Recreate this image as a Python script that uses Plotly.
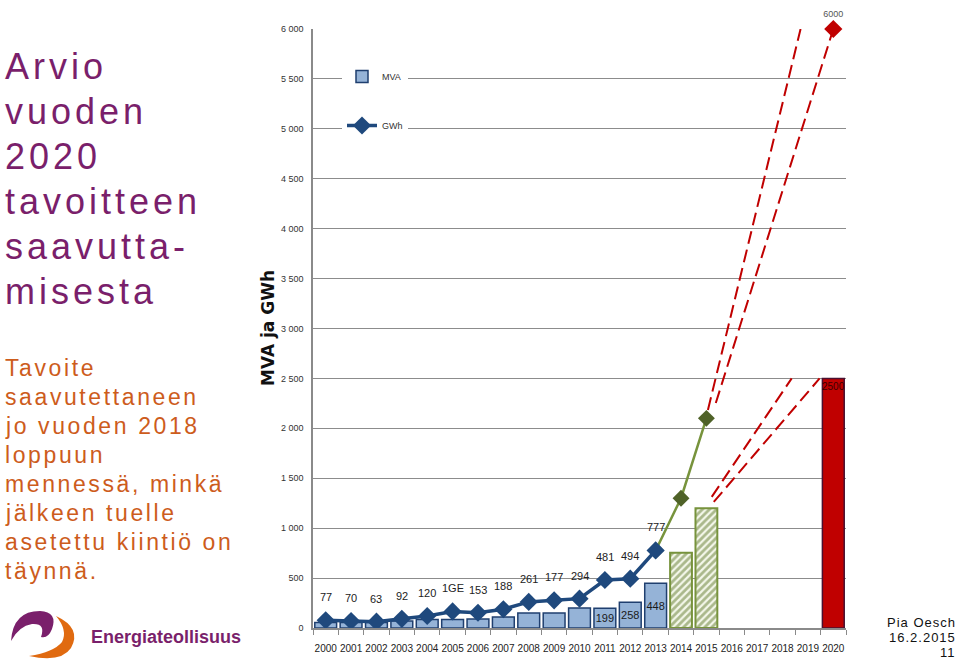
import plotly.graph_objects as go

# ---------------- data ----------------
years_all = list(range(2000, 2021))
mva_years = list(range(2000, 2014))
mva_values = [55, 55, 55, 70, 85, 85, 90, 110, 150, 150, 200, 199, 258, 448]
mva_labels = ["", "", "", "", "", "", "", "", "", "", "", "199", "258", "448"]

forecast_years = [2014, 2015]
forecast_mva = [755, 1200]

target_year = [2020]
target_mva = [2500]
target_label = ["2500"]

gwh_years = list(range(2000, 2014))
gwh_values = [77, 70, 63, 92, 120, 166, 153, 188, 261, 277, 294, 481, 494, 777]
gwh_labels = ["77", "70", "63", "92", "120", "1GE", "153", "188", "261", "177", "294", "481", "494", "777"]

gwh_fc_years = [2013, 2014, 2015]
gwh_fc_values = [777, 1300, 2100]

gwh_target_year = [2020]
gwh_target_value = [6000]

# projection corridors (dashed)
proj_gwh_a_x = [2015.06, 2018.71]
proj_gwh_a_y = [2184, 6000]
proj_gwh_b_x = [2015.37, 2020.0]
proj_gwh_b_y = [2254, 6000]
proj_mva_a_x = [2015.21, 2018.36]
proj_mva_a_y = [1313, 2500]
proj_mva_b_x = [2015.29, 2019.46]
proj_mva_b_y = [1263, 2500]

y_ticks = list(range(0, 6001, 500))
y_ticktext = ["0"] + [f"{v:,}".replace(",", " ") for v in y_ticks[1:]]

title_lines = ["Arvio", "vuoden", "2020", "tavoitteen", "saavutta-", "misesta"]
sub_lines = ["Tavoite", "saavutettaneen", "jo vuoden 2018", "loppuun",
             "mennessä, minkä", "jälkeen tuelle", "asetettu kiintiö on", "täynnä."]
footer_lines = ["Pia Oesch", "16.2.2015", "11"]

# ---------------- layout geometry ----------------
W, H = 960, 666
L, R, T, B = 313, 846, 29, 628


def px(x):
    return (x - L) / (R - L)


def py(y):
    return (B - y) / (B - T)


PURPLE = "#7A1F6B"
ORANGE = "#CD5C1C"
NAVY = "#1F497D"
NARROW = "Liberation Sans Narrow, Liberation Sans, Arial"

fig = go.Figure()

fig.add_trace(go.Bar(
    x=mva_years, y=mva_values, name="MVA", width=0.86,
    marker=dict(color="#95B3D7", line=dict(color="#1F3F6F", width=1.5)),
    text=mva_labels, textposition="inside", insidetextanchor="middle",
    textangle=0, constraintext="none",
    textfont=dict(size=11, color="#1a1a1a", family=NARROW),
    legendgroup="a",
))
fig.add_trace(go.Bar(
    x=forecast_years, y=forecast_mva, width=0.86, showlegend=False,
    marker=dict(color="#F4F7EA", line=dict(color="#77933C", width=2),
                pattern=dict(shape="/", fgcolor="#5F7A2C", bgcolor="#F4F7EA",
                             size=5, solidity=0.55)),
))
fig.add_trace(go.Bar(
    x=target_year, y=target_mva, width=0.86, showlegend=False,
    marker=dict(color="#C00000", line=dict(color="#4a1030", width=1.5)),
    text=target_label, textposition="inside", insidetextanchor="end",
    textangle=0, constraintext="none",
    textfont=dict(size=10, color="#3a0000", family=NARROW),
))

for xs, ys in [(proj_gwh_a_x, proj_gwh_a_y), (proj_gwh_b_x, proj_gwh_b_y),
               (proj_mva_a_x, proj_mva_a_y), (proj_mva_b_x, proj_mva_b_y)]:
    fig.add_trace(go.Scatter(
        x=xs, y=ys, mode="lines", showlegend=False, cliponaxis=False,
        line=dict(color="#C00000", width=2, dash="13px,6px"),
    ))

fig.add_trace(go.Scatter(
    x=gwh_fc_years, y=gwh_fc_values, mode="lines+markers", showlegend=False,
    line=dict(color="#77933C", width=2.5),
    marker=dict(symbol="diamond", size=13, color="#4F6228"),
))
fig.add_trace(go.Scatter(
    x=gwh_years, y=gwh_values, mode="lines+markers", name="GWh",
    line=dict(color=NAVY, width=3.5),
    marker=dict(symbol="diamond", size=14, color=NAVY),
    legendgroup="b",
))
fig.add_trace(go.Scatter(
    x=gwh_target_year, y=gwh_target_value, mode="markers+text", showlegend=False,
    cliponaxis=False, marker=dict(symbol="diamond", size=14, color="#C00000"),
    text=["6000"], textposition="top center",
    textfont=dict(size=9, color="#555555", family=NARROW),
))

annotations = []
for xv, yv, t in zip(gwh_years, gwh_values, gwh_labels):
    annotations.append(dict(x=xv, y=yv, text=t, showarrow=False, yshift=23,
                            font=dict(size=11, color="#222222", family=NARROW)))

# y axis title
annotations.append(dict(xref="paper", yref="paper", x=px(268), y=py(328),
                        xanchor="center", yanchor="middle",
                        text="<b>MVA ja GWh</b>", textangle=-90, showarrow=False,
                        font=dict(size=17, color="#111111", family="DejaVu Sans")))

# left title
for i, line in enumerate(title_lines):
    annotations.append(dict(
        xref="paper", yref="paper", x=px(3), y=py(67 + i * 44.8),
        xanchor="left", yanchor="middle", showarrow=False,
        text=f'<span style="letter-spacing:4px">{line}</span>',
        font=dict(size=36, color=PURPLE, family="Liberation Sans, Arial")))
for i, line in enumerate(sub_lines):
    annotations.append(dict(
        xref="paper", yref="paper", x=px(3), y=py(368 + i * 29),
        xanchor="left", yanchor="middle", showarrow=False,
        text=f'<span style="letter-spacing:2.6px">{line}</span>',
        font=dict(size=23, color=ORANGE, family="Liberation Sans, Arial")))
for i, line in enumerate(footer_lines):
    annotations.append(dict(
        xref="paper", yref="paper", x=px(958), y=py(622 + i * 15),
        xanchor="right", yanchor="middle", showarrow=False,
        text=f'<span style="letter-spacing:1px">{line}</span>',
        font=dict(size=13, color="#111111", family="Liberation Sans, Arial")))

# logo text
annotations.append(dict(xref="paper", yref="paper", x=px(89), y=py(637),
                        xanchor="left", yanchor="middle", showarrow=False,
                        text="<b>Energiateollisuus</b>",
                        font=dict(size=18, color=PURPLE, family="Liberation Sans, Arial")))


def path_from(points_cmds):
    out = []
    for cmd, pts in points_cmds:
        coords = " ".join(f"{px(x):.5f},{py(y):.5f}" for x, y in pts)
        out.append(f"{cmd} {coords}")
    return " ".join(out) + " Z"


purple_logo = path_from([("M", [(11, 641)]), ("Q", [(13, 611), (40, 611)]),
                         ("Q", [(58, 612), (52, 629)]), ("Q", [(48, 639), (41, 637)]),
                         ("Q", [(46, 623), (32, 624)]), ("Q", [(19, 626), (11, 641)])])
orange_logo = path_from([("M", [(56, 616)]), ("Q", [(82, 628), (71, 648)]),
                         ("Q", [(61, 663), (29, 656)]), ("Q", [(54, 652), (62, 642)]),
                         ("Q", [(68, 630), (56, 616)])])
shapes = [
    dict(type="path", xref="paper", yref="paper", path=purple_logo,
         fillcolor="#7A1F6B", line=dict(width=0)),
    dict(type="path", xref="paper", yref="paper", path=orange_logo,
         fillcolor="#E06A10", line=dict(width=0)),
]

fig.update_layout(
    width=W, height=H,
    margin=dict(l=L, r=W - R, t=T, b=H - B, pad=0),
    paper_bgcolor="white", plot_bgcolor="white",
    barmode="overlay",
    showlegend=True,
    legend=dict(x=px(342), y=py(62), xanchor="left", yanchor="top",
                bgcolor="white", tracegroupgap=30, itemwidth=30,
                font=dict(size=9, color="#333333", family=NARROW)),
    xaxis=dict(range=[1999.5, 2020.5], tickmode="array", tickvals=years_all,
               ticktext=[str(y) for y in years_all], ticks="",
               showgrid=False, showline=True, linecolor="#8a8a8a", linewidth=1.5,
               ticklabelstandoff=10,
               tickfont=dict(size=10, color="#222222", family=NARROW),
               minor=dict(tick0=1999.5, dtick=1, ticks="outside", ticklen=5,
                          tickcolor="#8a8a8a", showgrid=False),
               zeroline=False),
    yaxis=dict(range=[0, 6000], tickmode="array", tickvals=y_ticks, ticktext=y_ticktext,
               showgrid=True, gridcolor="#8c8c8c", gridwidth=1,
               showline=True, linecolor="#8a8a8a", linewidth=1.5, zeroline=False,
               ticks="", ticklabelstandoff=6,
               tickfont=dict(size=9, color="#333333", family=NARROW)),
    annotations=annotations,
    shapes=shapes,
)

fig.write_html("out.html", config={"displayModeBar": False},
               post_script="document.body.style.margin='0px';document.body.style.overflow='hidden';")
